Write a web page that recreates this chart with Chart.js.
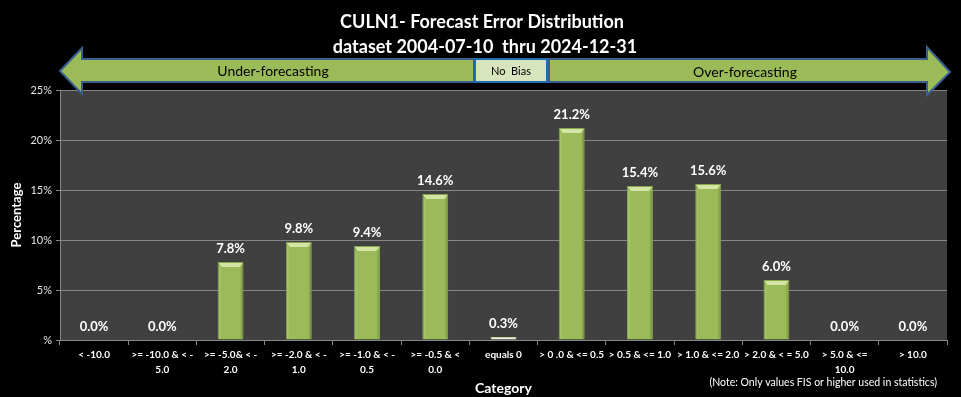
<!DOCTYPE html>
<html><head><meta charset="utf-8">
<script src="https://cdn.jsdelivr.net/npm/chart.js@4.4.1/dist/chart.umd.min.js"></script>
<style>html,body{margin:0;padding:0;background:#000;}#wrap{width:961px;height:397px;}</style>
</head><body><div id="wrap"><canvas id="c" width="961" height="397"></canvas></div>
<script>
const categories = [
  '< -10.0',
  ['>= -10.0 & < -', '5.0'],
  ['>= -5.0& < -', '2.0'],
  ['>= -2.0 & < -', '1.0'],
  ['>= -1.0 & < -', '0.5'],
  ['>= -0.5 & <', '0.0'],
  'equals 0',
  '> 0 .0 & <= 0.5',
  '> 0.5 & <= 1.0',
  '> 1.0 & <= 2.0',
  '> 2.0 & < = 5.0',
  ['> 5.0 & <=', '10.0'],
  '> 10.0'
];
const percentages = [0.0, 0.0, 7.8, 9.8, 9.4, 14.6, 0.3, 21.2, 15.4, 15.6, 6.0, 0.0, 0.0];
const yTicks = [0, 5, 10, 15, 20, 25];
const titleLines = ['CULN1- Forecast Error Distribution', 'dataset 2004-07-10  thru 2024-12-31'];
const bannerLeft = 'Under-forecasting';
const bannerMid = 'No  Bias';
const bannerRight = 'Over-forecasting';
const noteText = '(Note: Only values FIS or higher used in statistics)';

const FONT = 'Lato, "Open Sans", sans-serif';
const barColors = percentages.map((v, i) => categories[i] === 'equals 0' ? '#F2F4EA' : '#9BBB59');
const barBorders = percentages.map((v, i) => categories[i] === 'equals 0' ? '#C4D79B' : '#86A44A');

const decor = {
  id: 'decor',
  beforeDraw(chart) {
    const ctx = chart.ctx, a = chart.chartArea;
    ctx.save();
    ctx.fillStyle = '#000';
    ctx.fillRect(0, 0, chart.width, chart.height);
    ctx.fillStyle = '#404040';
    ctx.fillRect(a.left, a.top, a.right - a.left, a.bottom - a.top);
    ctx.restore();
  },
  afterDatasetsDraw(chart) {
    const ctx = chart.ctx;
    const meta = chart.getDatasetMeta(0);
    ctx.save();
    meta.data.forEach((bar, i) => {
      const w = bar.width, x = bar.x, top = bar.y, base = bar.base;
      const h = base - top;
      if (h > 6) {
        const cap = 4;
        ctx.fillStyle = '#D3E5A4';
        ctx.beginPath();
        ctx.moveTo(x - w / 2 + 1, top + 1);
        ctx.lineTo(x + w / 2 - 1, top + 1);
        ctx.lineTo(x + w / 2 - 4, top + cap + 1);
        ctx.lineTo(x - w / 2 + 4, top + cap + 1);
        ctx.closePath();
        ctx.fill();
        ctx.fillStyle = 'rgba(60,80,20,0.18)';
        ctx.fillRect(x + w / 2 - 3, top + cap + 1, 2, h - cap - 2);
        ctx.fillStyle = 'rgba(255,255,255,0.10)';
        ctx.fillRect(x - w / 2 + 1, top + cap + 1, 2, h - cap - 2);
      }
      ctx.fillStyle = '#FFFFFF';
      ctx.font = 'bold 13px ' + FONT;
      ctx.textAlign = 'center';
      ctx.textBaseline = 'middle';
      ctx.fillText(percentages[i].toFixed(1) + '%', x, Math.min(top, base) - 13);
    });
    ctx.restore();
  },
  afterDraw(chart) {
    const ctx = chart.ctx, a = chart.chartArea;
    ctx.save();
    // title
    ctx.fillStyle = '#FFFFFF';
    ctx.font = 'bold 18px ' + FONT;
    ctx.textAlign = 'center';
    ctx.textBaseline = 'middle';
    ctx.fillText(titleLines[0], 482, 22);
    ctx.fillText(titleLines[1], 485, 47);
    // banner
    const yTop = 59, yBot = 82, yMid = 71, hTop = 48, hBot = 94;
    const lTip = a.left, lBase = a.left + 22, lEnd = 474;
    ctx.lineWidth = 2;
    ctx.strokeStyle = '#3A5F8F';
    ctx.fillStyle = '#9BBB59';
    ctx.beginPath();
    ctx.moveTo(lTip, yMid);
    ctx.lineTo(lBase, hTop);
    ctx.lineTo(lBase, yTop);
    ctx.lineTo(lEnd, yTop);
    ctx.lineTo(lEnd, yBot);
    ctx.lineTo(lBase, yBot);
    ctx.lineTo(lBase, hBot);
    ctx.closePath();
    ctx.fill(); ctx.stroke();
    const rStart = 549, rBase = 927, rTip = 950;
    ctx.beginPath();
    ctx.moveTo(rTip, yMid + 1);
    ctx.lineTo(rBase, hTop - 1);
    ctx.lineTo(rBase, yTop);
    ctx.lineTo(rStart, yTop);
    ctx.lineTo(rStart, yBot);
    ctx.lineTo(rBase, yBot);
    ctx.lineTo(rBase, hBot + 1);
    ctx.closePath();
    ctx.fill(); ctx.stroke();
    ctx.fillStyle = '#D7E4BD';
    ctx.strokeStyle = '#1F6DB5';
    ctx.fillRect(475, yTop, 72, yBot - yTop);
    ctx.strokeRect(475, yTop, 72, yBot - yTop);
    ctx.fillStyle = '#000';
    ctx.font = '14px ' + FONT;
    ctx.fillText(bannerLeft, 273, 71);
    ctx.fillText(bannerRight, 745, 72);
    ctx.font = '11px ' + FONT;
    ctx.fillText(bannerMid, 511, 71);
    // note
    ctx.fillStyle = '#FFFFFF';
    ctx.font = '10.5px ' + FONT;
    ctx.textAlign = 'right';
    ctx.fillText(noteText, 937, 383);
    ctx.restore();
  }
};

new Chart(document.getElementById('c'), {
  type: 'bar',
  data: {
    labels: categories,
    datasets: [{
      data: percentages,
      backgroundColor: barColors,
      borderColor: barBorders,
      borderWidth: 1,
      categoryPercentage: 1.0,
      barPercentage: 0.38
    }]
  },
  options: {
    responsive: false,
    animation: false,
    devicePixelRatio: 1,
    layout: { padding: { top: 90, right: 14, left: 0, bottom: 0 } },
    plugins: { legend: { display: false }, tooltip: { enabled: false }, title: { display: false } },
    scales: {
      x: {
        grid: { display: true, offset: true, drawOnChartArea: false, drawTicks: true, tickLength: 5, color: '#868686' },
        border: { display: true, color: '#868686', width: 1 },
        ticks: { color: '#FFFFFF', font: { family: FONT, size: 10, weight: 'bold', lineHeight: 1.45 }, autoSkip: false, maxRotation: 0, minRotation: 0, padding: 3 },
        title: { display: true, text: 'Category', color: '#FFFFFF', font: { family: FONT, size: 14, weight: 'bold' }, padding: { top: 2, bottom: 0 } },
        afterFit(s) { s.height = 57; }
      },
      y: {
        min: 0, max: 25,
        afterBuildTicks(s) { s.ticks = yTicks.map(v => ({ value: v })); },
        grid: { color: '#868686', tickLength: 4, drawTicks: true },
        border: { display: true, color: '#868686', width: 1 },
        ticks: { color: '#E6E6E6', font: { family: FONT, size: 11 }, padding: 4, callback: v => (v === 0 ? '' : v) + '%' },
        title: { display: true, text: 'Percentage', color: '#FFFFFF', font: { family: FONT, size: 13, weight: 'bold' }, padding: { top: 9, bottom: 0 } },
        afterFit(s) { s.width = 60; }
      }
    }
  },
  plugins: [decor]
});
</script>
</body></html>
